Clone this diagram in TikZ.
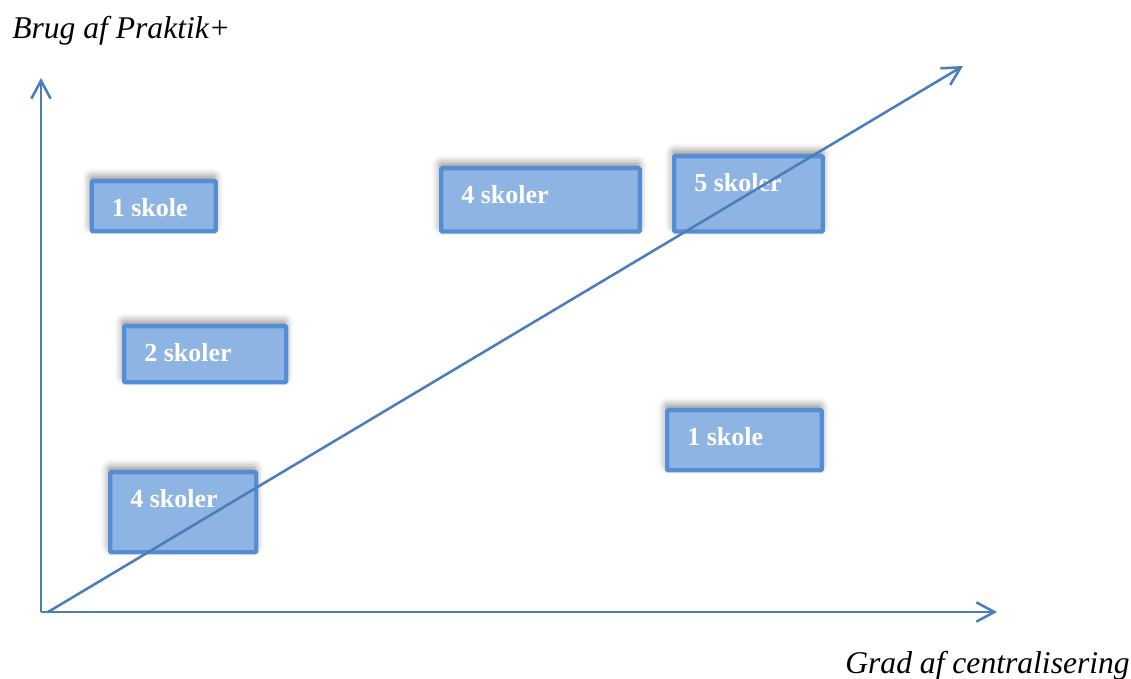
\documentclass[tikz,border=0pt]{standalone}
\usepackage{fontspec}
\setmainfont{Liberation Serif}
\usetikzlibrary{arrows.meta,shadows.blur}
\definecolor{axisblue}{HTML}{4A7EBB}
\definecolor{boxfill}{HTML}{8EB4E3}
\definecolor{boxline}{HTML}{558ED5}
\tikzset{
  axisline/.style={draw=axisblue, line width=1.9pt, -{Straight Barb[length=13.5pt,width=14.5pt]}},
  schoolbox/.style={rectangle, draw=boxline, fill=boxfill, line width=3.3pt, anchor=north west, inner sep=0pt, rounded corners=0.8pt,
    blur shadow={shadow xshift=-0.8pt, shadow yshift=3.5pt, shadow blur radius=6pt, shadow opacity=50}},
  boxlbl/.style={text=white, font=\bfseries\fontsize{19.5}{21}\selectfont, anchor=west, inner sep=0pt, xshift=16.5pt, yshift=-21.5pt},
  axlabel/.style={font=\itshape\fontsize{23.7}{26}\selectfont, inner sep=0pt}
}
\begin{document}
\begin{tikzpicture}[x=0.75pt,y=-0.75pt]
\useasboundingbox (0,0) rectangle (1131,678);
\coordinate (O) at (41,612);
\coordinate (ytip) at (41,78);
\coordinate (xtip) at (997,612);
\coordinate (dstart) at (48,612);
\coordinate (dtip) at (963,66);
\draw[axisline] (O) -- (ytip);
\draw[axisline] (O) -- (xtip);
\node[axlabel, anchor=base west] (ylab) at (12,38) {Brug af Praktik+};
\node[axlabel, anchor=base east] (xlab) at (1130,673) {Grad af centralisering};
\node[schoolbox, minimum width=93pt, minimum height=37.5pt, label={[boxlbl]north west:1 skole}] (b1) at (89.5,179) {};
\node[schoolbox, minimum width=149pt, minimum height=47.5pt, label={[boxlbl]north west:4 skoler}] (b2) at (439,166) {};
\node[schoolbox, minimum width=111.5pt, minimum height=56.5pt, label={[boxlbl]north west:5 skoler}] (b3) at (672,154) {};
\node[schoolbox, minimum width=121.5pt, minimum height=42pt, label={[boxlbl]north west:2 skoler}] (b4) at (122,324) {};
\node[schoolbox, minimum width=116pt, minimum height=45pt, label={[boxlbl]north west:1 skole}] (b5) at (665,408) {};
\node[schoolbox, minimum width=109.5pt, minimum height=60pt, label={[boxlbl]north west:4 skoler}] (b6) at (108,470) {};
\draw[axisline] (dstart) -- (dtip);
\end{tikzpicture}
\end{document}
